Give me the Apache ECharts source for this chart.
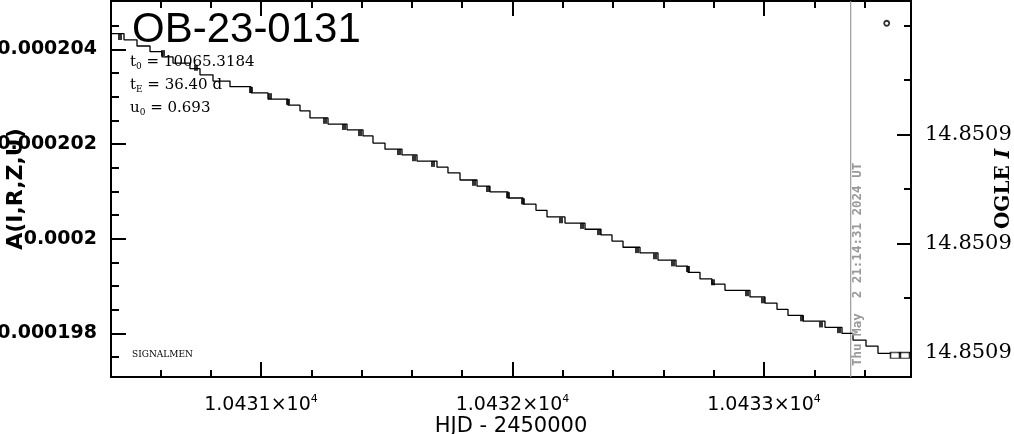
<!DOCTYPE html>
<html><head><meta charset="utf-8">
<script src="https://cdn.jsdelivr.net/npm/echarts@6/dist/echarts.min.js"></script>
<style>html,body{margin:0;padding:0;background:#fff}#c{width:1014px;height:434px}</style>
</head><body><div id="c"></div>
<script>
// ---- data ----
const stepHJD = [
 10430.4036, 10430.4553, 10430.5070, 10430.5587, 10430.6064, 10430.6501, 10430.7177, 10430.7575, 10430.8092, 10430.8768, 10430.9603, 10431.0278, 10431.1074, 10431.1551,
 10431.1948, 10431.2664, 10431.3420, 10431.4056, 10431.4453, 10431.4931, 10431.5606, 10431.6203, 10431.6998, 10431.7435, 10431.7913, 10431.8589, 10431.9105,
 10431.9821, 10432.0418, 10432.0934, 10432.1372, 10432.2087, 10432.2883, 10432.3519, 10432.3956, 10432.4394, 10432.5070, 10432.5785, 10432.6501, 10432.6978,
 10432.7455, 10432.7932, 10432.8449, 10432.9443, 10433.0040, 10433.0517, 10433.0954, 10433.1551, 10433.2425, 10433.3101, 10433.3539, 10433.4056, 10433.4533
];
const stepAmp = [
 0.00020433, 0.00020420, 0.00020407, 0.00020395, 0.00020384, 0.00020371, 0.00020359, 0.00020346, 0.00020333, 0.00020321, 0.00020308, 0.00020295, 0.00020282, 0.00020270,
 0.00020255, 0.00020242, 0.00020230, 0.00020217, 0.00020202, 0.00020189, 0.00020177, 0.00020164, 0.00020151, 0.00020139, 0.00020124, 0.00020111, 0.00020099,
 0.00020086, 0.00020073, 0.00020060, 0.00020046, 0.00020033, 0.00020020, 0.00020008, 0.00019995, 0.00019982, 0.00019970, 0.00019955, 0.00019942, 0.00019929,
 0.00019915, 0.00019904, 0.00019891, 0.00019877, 0.00019864, 0.00019851, 0.00019838, 0.00019826, 0.00019813, 0.00019800, 0.00019786, 0.00019773, 0.00019758
];
const stepEndHJD = 10433.5845;

const markHJD = [
 10430.4394, 10430.6104, 10430.7416, 10430.9603, 10431.0358, 10431.1074, 10431.2545, 10431.3300, 10431.3936, 10431.5487,
 10431.6084, 10431.6839, 10431.8469, 10431.9026, 10431.9821, 10432.0418, 10432.1928, 10432.2763, 10432.3439, 10432.4950,
 10432.5666, 10432.6382, 10432.6978, 10432.7972, 10432.9324, 10432.9960, 10433.1511, 10433.2266, 10433.2982
];
const markAmp = [
 0.00020426, 0.00020392, 0.00020361, 0.00020314, 0.00020301, 0.00020289, 0.00020249, 0.00020236, 0.00020223, 0.00020183,
 0.00020170, 0.00020158, 0.00020118, 0.00020105, 0.00020092, 0.00020079, 0.00020039, 0.00020027, 0.00020014, 0.00019976,
 0.00019963, 0.00019948, 0.00019936, 0.00019908, 0.00019885, 0.00019870, 0.00019832, 0.00019819, 0.00019807
];
const boxHJD = [10433.5209, 10433.5606];
const boxAmp = [0.00019754, 0.00019754];
const ringHJD = [10433.4879];
const ringAmp = [0.00020455];
const nowHJD = 10433.3447;

const xRange = [10430.4036, 10433.5845];
const ampRange = [0.00019708, 0.00020502];
const magRange = [14.850835468, 14.850904459];

const xMajorTicks = [10431, 10432, 10433];
const xMinorTicks = [10430.6, 10430.8, 10431.2, 10431.4, 10431.6, 10431.8, 10432.2, 10432.4, 10432.6, 10432.8, 10433.2, 10433.4];
const ampMajorTicks = [0.000198, 0.0002, 0.000202, 0.000204];
const ampMinorTicks = [0.0001975, 0.0001985, 0.000199, 0.0001995, 0.0002005, 0.000201, 0.0002015, 0.0002025, 0.000203, 0.0002035, 0.0002045];
const magMajorTicks = [14.85086, 14.85088, 14.8509];
const magMinorTicks = [14.85084, 14.85085, 14.85087, 14.85089];

const titleText = 'OB-23-0131';
const paramT0 = '10065.3184';
const paramTE = '36.40 d';
const paramU0 = '0.693';
const nowText = 'Thu May  2 21:14:31 2024 UT';
const signature = 'SIGNALMEN';

// ---- chart ----
const chart = echarts.init(document.getElementById('c'), null, {renderer: 'canvas'});
const black = '#000';
const lineW = 2;

function xAxisDef(pos, ticks, len, withLabels) {
  const a = {
    type: 'value', position: pos, min: xRange[0], max: xRange[1],
    axisLine: {show: true, onZero: false, lineStyle: {color: black, width: lineW}},
    axisTick: {show: true, inside: true, length: len, customValues: ticks, lineStyle: {color: black, width: lineW}},
    axisLabel: {show: false},
    splitLine: {show: false}
  };
  if (withLabels) {
    a.axisLabel = {
      show: true, customValues: ticks, margin: 17, color: black,
      fontFamily: 'DejaVu Sans', fontSize: 19, lineHeight: 22,
      formatter: v => (v / 1e4).toFixed(4) + '×10{sup|4}',
      rich: {sup: {fontFamily: 'DejaVu Sans', fontSize: 11, color: black, verticalAlign: 'top', lineHeight: 22}}
    };
    a.name = 'HJD - 2450000';
    a.nameLocation = 'middle';
    a.nameGap = 39;
    a.nameMoveOverlap = false;
    a.nameTextStyle = {fontFamily: 'DejaVu Sans', fontSize: 21, color: black};
  }
  return a;
}

function ampAxisDef(ticks, len, withLabels) {
  const a = {
    type: 'value', position: 'left', min: ampRange[0], max: ampRange[1],
    axisLine: {show: true, onZero: false, lineStyle: {color: black, width: lineW}},
    axisTick: {show: true, inside: true, length: len, customValues: ticks, lineStyle: {color: black, width: lineW}},
    axisLabel: {show: false},
    splitLine: {show: false}
  };
  if (withLabels) {
    a.axisLabel = {
      show: true, customValues: ticks, margin: 14, color: black,
      fontFamily: 'DejaVu Sans', fontWeight: 'bold', fontSize: 19,
      formatter: v => String(parseFloat(v.toFixed(7)))
    };
    a.name = 'A(I,R,Z,U)';
    a.nameLocation = 'middle';
    a.nameGap = 84;
    a.nameMoveOverlap = false;
    a.nameTextStyle = {fontFamily: 'DejaVu Sans', fontWeight: 'bold', fontSize: 22, color: black};
  }
  return a;
}

function magAxisDef(ticks, len, withLabels) {
  const a = {
    type: 'value', position: 'right', min: magRange[0], max: magRange[1], inverse: true,
    axisLine: {show: true, onZero: false, lineStyle: {color: black, width: lineW}},
    axisTick: {show: true, inside: true, length: len, customValues: ticks, lineStyle: {color: black, width: lineW}},
    axisLabel: {show: false},
    splitLine: {show: false}
  };
  if (withLabels) {
    a.axisLabel = {
      show: true, customValues: ticks, margin: 14, color: black,
      fontFamily: 'DejaVu Serif', fontSize: 21,
      formatter: v => v.toFixed(4)
    };
    a.name = '{a|OGLE }{b|I}';
    a.nameLocation = 'middle';
    a.nameGap = 83;
    a.nameMoveOverlap = false;
    a.nameTextStyle = {
      rich: {
        a: {fontFamily: 'DejaVu Serif', fontSize: 20, fontWeight: 'bold', color: black},
        b: {fontFamily: 'DejaVu Serif', fontSize: 20, fontWeight: 'bold', color: black, fontStyle: 'italic'}
      }
    };
  }
  return a;
}

const stepData = stepHJD.map((x, i) => [x, stepAmp[i]]);
stepData.push([stepEndHJD, stepAmp[stepAmp.length - 1]]);

const paramRich = {
  m: {fontFamily: 'DejaVu Serif', fontSize: 15, fill: black, lineHeight: 19, verticalAlign: 'middle'},
  s: {fontFamily: 'DejaVu Serif', fontSize: 9, fill: black, lineHeight: 19, verticalAlign: 'bottom'}
};

const option = {
  animation: false,
  backgroundColor: '#fff',
  grid: {left: 111, right: 103, top: 1, bottom: 57, containLabel: false, outerBoundsMode: 'none'},
  xAxis: [
    xAxisDef('bottom', xMajorTicks, 15, true),
    xAxisDef('bottom', xMinorTicks, 7, false),
    xAxisDef('top', xMajorTicks, 15, false),
    xAxisDef('top', xMinorTicks, 7, false)
  ],
  yAxis: [
    ampAxisDef(ampMajorTicks, 15, true),
    ampAxisDef(ampMinorTicks, 8, false),
    magAxisDef(magMajorTicks, 14, true),
    magAxisDef(magMinorTicks, 7, false)
  ],
  series: [
    {
      type: 'line', xAxisIndex: 0, yAxisIndex: 0, silent: true,
      data: [[nowHJD, ampRange[0]], [nowHJD, ampRange[1]]],
      symbol: 'none', lineStyle: {color: '#9a9a9a', width: 1.2}, z: 1
    },
    {
      type: 'line', xAxisIndex: 0, yAxisIndex: 0, step: 'end',
      data: stepData, symbol: 'none',
      lineStyle: {color: black, width: 1.3}, z: 3
    },
    {
      type: 'scatter', xAxisIndex: 0, yAxisIndex: 0,
      data: markHJD.map((x, i) => [x, markAmp[i]]),
      symbol: 'rect', symbolSize: [4, 6],
      itemStyle: {color: black}, z: 4
    },
    {
      type: 'scatter', xAxisIndex: 0, yAxisIndex: 0,
      data: boxHJD.map((x, i) => [x, boxAmp[i]]),
      symbol: 'rect', symbolSize: [9, 6],
      itemStyle: {color: '#fff', borderColor: black, borderWidth: 1.3}, z: 4
    },
    {
      type: 'scatter', xAxisIndex: 0, yAxisIndex: 0,
      data: ringHJD.map((x, i) => [x, ringAmp[i]]),
      symbol: 'circle', symbolSize: 5,
      itemStyle: {color: '#fff', borderColor: black, borderWidth: 1.8}, z: 4
    }
  ],
  graphic: [
    {
      type: 'text', x: 132, y: 9, z: 100,
      style: {text: titleText, fontFamily: 'Liberation Sans', fontSize: 42, fill: black, textAlign: 'left', textVerticalAlign: 'top'}
    },
    {
      type: 'text', x: 130, y: 62, z: 100,
      style: {text: '{m|t}{s|0}{m| = ' + paramT0 + '}', textAlign: 'left', textVerticalAlign: 'middle', rich: paramRich}
    },
    {
      type: 'text', x: 130, y: 85, z: 100,
      style: {text: '{m|t}{s|E}{m| = ' + paramTE + '}', textAlign: 'left', textVerticalAlign: 'middle', rich: paramRich}
    },
    {
      type: 'text', x: 130, y: 108, z: 100,
      style: {text: '{m|u}{s|0}{m| = ' + paramU0 + '}', textAlign: 'left', textVerticalAlign: 'middle', rich: paramRich}
    },
    {
      type: 'text', x: 132, y: 355, z: 100,
      style: {text: signature, fontFamily: 'DejaVu Serif', fontSize: 9, fill: black, textAlign: 'left', textVerticalAlign: 'middle'}
    },
    {
      type: 'text', x: 858, y: 366, rotation: Math.PI / 2, z: 100,
      style: {text: nowText, fontFamily: 'DejaVu Sans Mono', fontWeight: 'bold', fontSize: 12.5, fill: '#999', textAlign: 'left', textVerticalAlign: 'middle'}
    }
  ]
};
chart.setOption(option);
</script>
</body></html>
